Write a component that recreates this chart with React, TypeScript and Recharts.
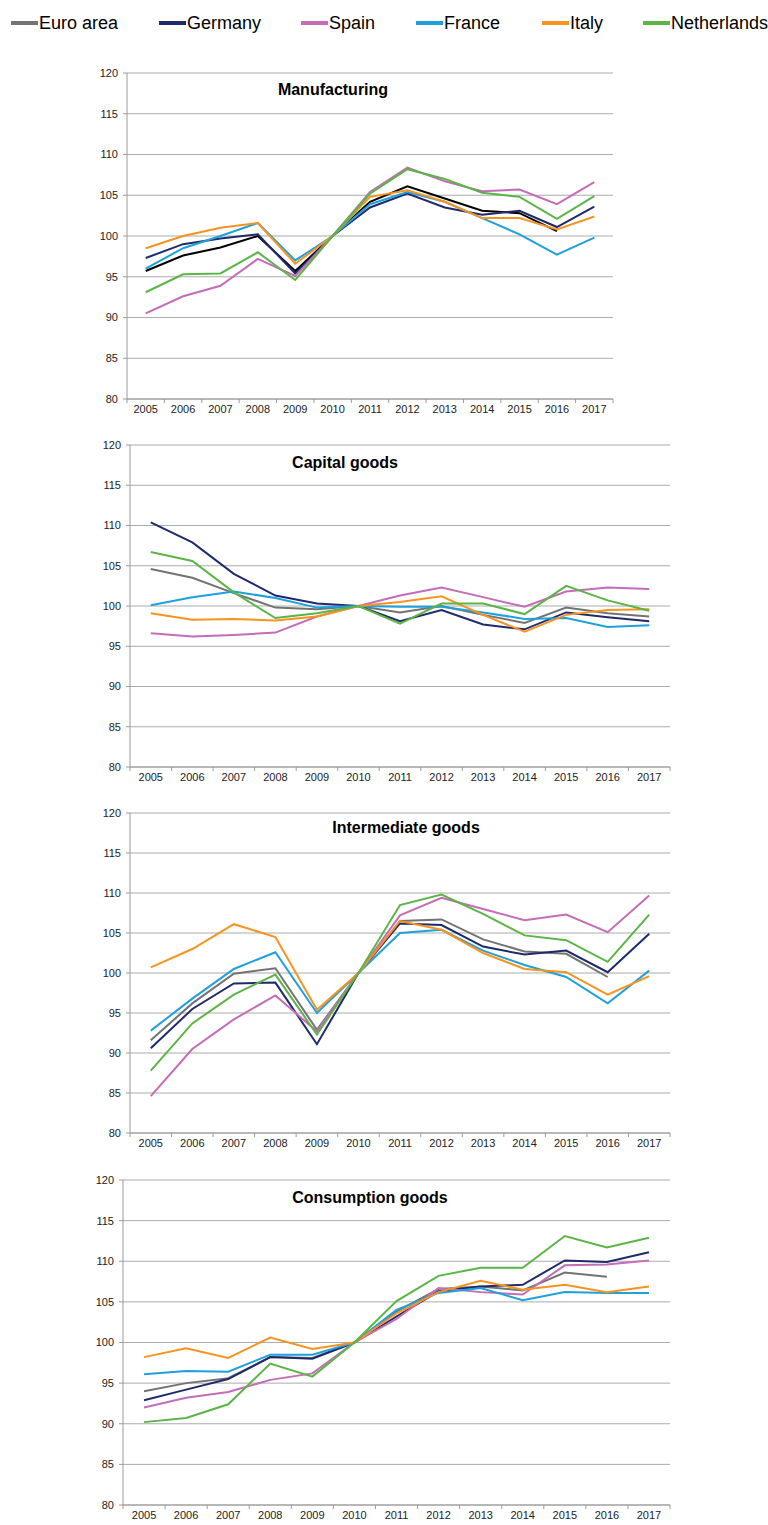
import React from 'react';
import { LineChart, Line, XAxis, YAxis, CartesianGrid } from 'recharts';

const years = ['2005', '2006', '2007', '2008', '2009', '2010', '2011', '2012', '2013', '2014', '2015', '2016', '2017'];
const yTicks = [80, 85, 90, 95, 100, 105, 110, 115, 120];

const seriesNames = ['Euro area', 'Germany', 'Spain', 'France', 'Italy', 'Netherlands'];
const seriesKeys = ['euro', 'germany', 'spain', 'france', 'italy', 'netherlands'];
const seriesColors = ['#737373', '#1f2a6b', '#c56cb8', '#1ea0dc', '#f7931e', '#5bb446'];

// Manufacturing
const manEuro = [95.7, 97.6, 98.6, 100.0, 95.7, 100, 104.2, 106.1, 104.6, 103.1, 102.8, 100.6, null];
const manGermany = [97.3, 99.0, 99.7, 100.2, 95.4, 100, 103.5, 105.2, 103.5, 102.6, 103.1, 101.1, 103.6];
const manSpain = [90.5, 92.6, 93.9, 97.2, 95.1, 100, 105.4, 108.4, 106.7, 105.5, 105.7, 103.9, 106.6];
const manFrance = [96.0, 98.5, 100.0, 101.6, 97.0, 100, 103.9, 105.4, 104.2, 102.2, 100.2, 97.7, 99.8];
const manItaly = [98.5, 100.0, 101.0, 101.6, 96.6, 100, 104.8, 105.6, 104.2, 102.2, 102.2, 100.8, 102.4];
const manNetherlands = [93.1, 95.3, 95.4, 98.0, 94.6, 100, 105.2, 108.2, 107.0, 105.3, 104.8, 102.1, 104.9];

// Capital goods
const capEuro = [104.6, 103.5, 101.6, 99.8, 99.6, 100, 99.2, 100.0, 98.9, 97.9, 99.8, 99.1, 98.7];
const capGermany = [110.4, 107.9, 104.0, 101.3, 100.3, 100, 98.1, 99.5, 97.7, 97.1, 99.2, 98.6, 98.1];
const capSpain = [96.6, 96.2, 96.4, 96.7, 98.7, 100, 101.3, 102.3, 101.1, 99.9, 101.8, 102.3, 102.1];
const capFrance = [100.1, 101.1, 101.8, 101.0, 99.8, 100, 99.9, 99.9, 99.2, 98.4, 98.5, 97.4, 97.6];
const capItaly = [99.1, 98.3, 98.4, 98.2, 98.7, 100, 100.5, 101.2, 98.9, 96.8, 98.9, 99.5, 99.6];
const capNetherlands = [106.7, 105.6, 101.7, 98.5, 99.1, 100, 97.8, 100.3, 100.3, 99.0, 102.5, 100.7, 99.4];

// Intermediate goods
const intEuro = [91.6, 96.2, 99.9, 100.6, 92.9, 100, 106.5, 106.7, 104.2, 102.7, 102.4, 99.5, null];
const intGermany = [90.6, 95.5, 98.7, 98.8, 91.1, 100, 106.2, 106.0, 103.3, 102.3, 102.8, 100.1, 104.9];
const intSpain = [84.6, 90.5, 94.2, 97.2, 92.7, 100, 107.2, 109.4, 108.0, 106.6, 107.3, 105.1, 109.7];
const intFrance = [92.8, 96.8, 100.5, 102.6, 95.0, 100, 105.0, 105.4, 102.8, 101.0, 99.5, 96.2, 100.3];
const intItaly = [100.7, 103.0, 106.1, 104.5, 95.4, 100, 106.5, 105.4, 102.5, 100.5, 100.1, 97.3, 99.6];
const intNetherlands = [87.8, 93.7, 97.3, 99.8, 92.3, 100, 108.5, 109.8, 107.4, 104.7, 104.1, 101.4, 107.3];

// Consumption goods
const conEuro = [94.0, 95.0, 95.6, 98.2, 98.1, 100, 103.8, 106.6, 106.9, 106.4, 108.6, 108.1, null];
const conGermany = [92.9, 94.2, 95.5, 98.2, 98.0, 100, 103.2, 106.3, 106.9, 107.1, 110.1, 109.9, 111.1];
const conSpain = [92.0, 93.2, 93.9, 95.4, 96.2, 100, 102.9, 106.7, 106.2, 105.9, 109.5, 109.6, 110.1];
const conFrance = [96.1, 96.5, 96.4, 98.5, 98.5, 100, 104.0, 106.1, 106.7, 105.2, 106.2, 106.1, 106.1];
const conItaly = [98.2, 99.3, 98.1, 100.6, 99.2, 100, 103.6, 106.2, 107.6, 106.5, 107.1, 106.2, 106.9];
const conNetherlands = [90.2, 90.7, 92.4, 97.4, 95.8, 100, 105.1, 108.2, 109.2, 109.2, 113.1, 111.7, 112.9];

type Num = number | null;

function buildData(series: Num[][]) {
  return years.map((year, i) => {
    const row: Record<string, string | Num> = { year };
    seriesKeys.forEach((k, j) => {
      row[k] = series[j][i];
    });
    return row;
  });
}

const FONT = "'Liberation Sans', Arial, Helvetica, sans-serif";
const AXIS_GRAY = '#9a9a9a';
const X_TICK_SIZE = 5;
const X_TICK_MARGIN = 1;

function makeXTick(halfBand: number, lastIndex: number) {
  return function XTick(props: any) {
    const { x, y, payload, index } = props;
    const axisY = y - X_TICK_SIZE - X_TICK_MARGIN;
    return (
      <g>
        <line x1={x - halfBand} x2={x - halfBand} y1={axisY} y2={axisY + 4} stroke={AXIS_GRAY} />
        {index === lastIndex ? (
          <line x1={x + halfBand} x2={x + halfBand} y1={axisY} y2={axisY + 4} stroke={AXIS_GRAY} />
        ) : null}
        <text x={x} y={y} dy="0.71em" textAnchor="middle" fontSize={11} fill="#222">
          {payload.value}
        </text>
      </g>
    );
  };
}

interface PanelProps {
  title: string;
  series: Num[][];
  plotLeft: number;
  plotRight: number;
  plotTop: number;
  plotBottom: number;
  titleCenter: number;
  titleBaseline: number;
  euroColor?: string;
}

function Panel(p: PanelProps) {
  const data = buildData(p.series);
  const topMargin = 10;
  const rightMargin = 30;
  const xAxisH = 30;
  const width = p.plotRight + rightMargin;
  const height = p.plotBottom - p.plotTop + topMargin + xAxisH;
  const halfBand = (p.plotRight - p.plotLeft) / years.length / 2;
  const colors = seriesColors.map((c, i) => (i === 0 && p.euroColor ? p.euroColor : c));
  const XTick = makeXTick(halfBand, years.length - 1);
  return (
    <>
      <div style={{ position: 'absolute', left: 0, top: p.plotTop - topMargin, width, height }}>
        <LineChart width={width} height={height} data={data} margin={{ top: topMargin, right: rightMargin, left: 0, bottom: 0 }}>
          <CartesianGrid horizontal vertical={false} stroke="#ababab" />
          <XAxis
            dataKey="year"
            interval={0}
            height={xAxisH}
            padding={{ left: halfBand, right: halfBand }}
            tickLine={false}
            tickSize={X_TICK_SIZE}
            tickMargin={X_TICK_MARGIN}
            axisLine={{ stroke: AXIS_GRAY }}
            tick={<XTick />}
          />
          <YAxis
            type="number"
            domain={[80, 120]}
            ticks={yTicks}
            interval={0}
            width={p.plotLeft}
            tickSize={4}
            tickMargin={5}
            tickLine={{ stroke: AXIS_GRAY }}
            axisLine={{ stroke: AXIS_GRAY }}
            tick={{ fontSize: 11, fill: '#222' }}
          />
          {seriesKeys.map((k, i) => (
            <Line
              key={k}
              type="linear"
              dataKey={k}
              name={seriesNames[i]}
              stroke={colors[i]}
              strokeWidth={2}
              dot={false}
              activeDot={false}
              isAnimationActive={false}
            />
          ))}
        </LineChart>
      </div>
      <div
        style={{
          position: 'absolute',
          left: p.titleCenter - 150,
          width: 300,
          top: p.titleBaseline - 15,
          textAlign: 'center',
          fontSize: 16,
          fontWeight: 'bold',
          lineHeight: '18px',
          color: '#000',
        }}
      >
        {p.title}
      </div>
    </>
  );
}

const legendLineLeft = [11, 159, 301, 416, 542, 643];

function Legend() {
  return (
    <>
      {seriesNames.map((n, i) => (
        <div key={n} style={{ position: 'absolute', left: legendLineLeft[i], top: 12, height: 22, display: 'flex', alignItems: 'center' }}>
          <div style={{ width: 27, height: 4, background: seriesColors[i] }} />
          <span style={{ fontSize: 18, marginLeft: 1, color: '#000', lineHeight: '22px' }}>{n}</span>
        </div>
      ))}
    </>
  );
}

export default function App() {
  return (
    <div style={{ position: 'absolute', left: 0, top: 0, width: 768, height: 1525, background: '#fff', fontFamily: FONT }}>
      <Legend />
      <Panel
        title="Manufacturing"
        series={[manEuro, manGermany, manSpain, manFrance, manItaly, manNetherlands]}
        plotLeft={127}
        plotRight={613}
        plotTop={73}
        plotBottom={399}
        titleCenter={333}
        titleBaseline={96}
        euroColor="#000000"
      />
      <Panel
        title="Capital goods"
        series={[capEuro, capGermany, capSpain, capFrance, capItaly, capNetherlands]}
        plotLeft={130}
        plotRight={670}
        plotTop={445}
        plotBottom={767}
        titleCenter={345}
        titleBaseline={469}
      />
      <Panel
        title="Intermediate goods"
        series={[intEuro, intGermany, intSpain, intFrance, intItaly, intNetherlands]}
        plotLeft={130}
        plotRight={670}
        plotTop={813}
        plotBottom={1133}
        titleCenter={406}
        titleBaseline={834}
      />
      <Panel
        title="Consumption goods"
        series={[conEuro, conGermany, conSpain, conFrance, conItaly, conNetherlands]}
        plotLeft={123}
        plotRight={670}
        plotTop={1180}
        plotBottom={1505}
        titleCenter={370}
        titleBaseline={1204}
      />
    </div>
  );
}
